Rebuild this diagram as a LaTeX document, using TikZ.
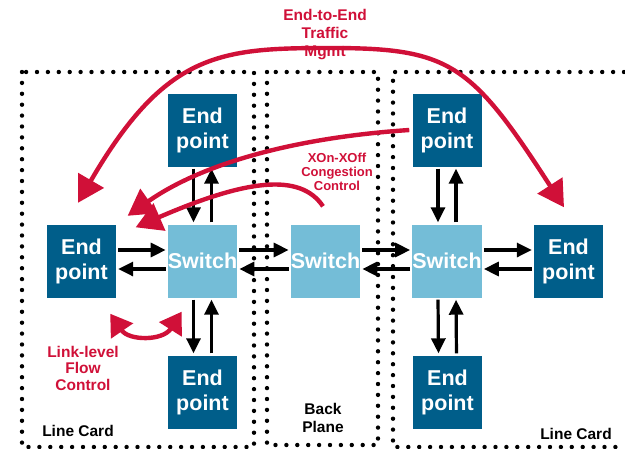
\documentclass[tikz,border=0pt]{standalone}
\usepackage{fontspec}
\setmainfont{Liberation Sans}
\usetikzlibrary{arrows.meta}
\definecolor{epblue}{RGB}{0,94,138}
\definecolor{swblue}{RGB}{116,189,215}
\definecolor{flowred}{RGB}{208,16,56}

\begin{document}
\begin{tikzpicture}[x=1pt,y=-1pt,
  card/.style={line width=4.4pt, dash pattern=on 0pt off 10.9pt, line cap=round},
  endpoint/.style={fill=epblue, minimum width=69pt, minimum height=73pt, inner sep=0pt,
    text=white, font=\bfseries\fontsize{21.5}{25}\selectfont, align=center},
  switchbox/.style={endpoint, fill=swblue},
  link/.style={line width=3.2pt, -{Triangle[length=15pt,width=14pt]}, shorten <=2pt, shorten >=2pt},
  ctrl/.style={draw=flowred, line width=4.4pt, -{Triangle[length=26pt,width=29pt]}},
  ctrlboth/.style={ctrl, {Triangle[length=26pt,width=29pt]}-{Triangle[length=26pt,width=29pt]}},
  ctrlshort/.style={ctrl, {Triangle[length=21pt,width=26pt]}-{Triangle[length=21pt,width=26pt]}},
  redlabel/.style={text=flowred, align=center, inner sep=0pt},
  cardlabel/.style={text=black, align=center, inner sep=0pt, font=\bfseries\fontsize{15.5}{18}\selectfont},
]
\useasboundingbox (0,0) rectangle (625,448);

% dotted enclosures: two line cards and the back plane
\draw[card] (22,72) rectangle (254,447);
\draw[card] (267,72) rectangle (378,445);
\draw[card] (624,72) -- (393,72) -- (393,447) -- (624,447);

% end points and switches
\node[endpoint]  (epL)  at (81.5,261) {End\\point};
\node[switchbox] (swL)  at (202.5,261) {Switch};
\node[endpoint]  (epTL) at (202.5,130) {End\\point};
\node[endpoint]  (epBL) at (202.5,392) {End\\point};
\node[switchbox] (swB)  at (325.5,261) {Switch};
\node[switchbox] (swR)  at (447,261) {Switch};
\node[endpoint]  (epTR) at (447,130) {End\\point};
\node[endpoint]  (epBR) at (447.5,392) {End\\point};
\node[endpoint]  (epR)  at (568.5,261) {End\\point};

% horizontal links
\draw[link] ([yshift=11pt]epL.east) -- ([yshift=11pt]swL.west);
\draw[link] ([yshift=-8pt]swL.west) -- ([yshift=-8pt]epL.east);
\draw[link] ([yshift=11pt]swL.east) -- ([yshift=11pt]swB.west);
\draw[link] ([yshift=-8pt]swB.west) -- ([yshift=-8pt]swL.east);
\draw[link] ([yshift=11pt]swB.east) -- ([yshift=11pt]swR.west);
\draw[link] ([yshift=-8pt]swR.west) -- ([yshift=-8pt]swB.east);
\draw[link] ([yshift=11pt]swR.east) -- ([yshift=11pt]epR.west);
\draw[link] ([yshift=-8pt]epR.west) -- ([yshift=-8pt]swR.east);

% vertical links
\draw[link] ([xshift=-9pt]epTL.south) -- ([xshift=-9pt]swL.north);
\draw[link] ([xshift=9pt]swL.north) -- ([xshift=9pt]epTL.south);
\draw[link] ([xshift=-9pt]swL.south) -- ([xshift=-9pt]epBL.north);
\draw[link] ([xshift=9pt]epBL.north) -- ([xshift=9pt]swL.south);
\draw[link] ([xshift=-9pt]epTR.south) -- ([xshift=-9pt]swR.north);
\draw[link] ([xshift=9pt]swR.north) -- ([xshift=9pt]epTR.south);
\draw[link] ([xshift=-9pt]swR.south) -- ([xshift=-9pt]epBR.north);
\draw[link] ([xshift=9pt]epBR.north) -- ([xshift=9pt]swR.south);

% labels
\node[cardlabel] (lcL) at (78,431) {Line Card};
\node[cardlabel] (bp)  at (323,418) {Back\\Plane};
\node[cardlabel] (lcR) at (576,434) {Line Card};
\node[redlabel, font=\bfseries\fontsize{15.5}{18}\selectfont] (e2e) at (325,35) {End-to-End\\Traffic\\Mgmt};
\node[redlabel, font=\bfseries\fontsize{13}{14}\selectfont] (xon) at (337,172) {XOn-XOff\\Congestion\\Control};
\node[redlabel, font=\bfseries\fontsize{15.5}{16.5}\selectfont] (llfc) at (83,368) {Link-level\\Flow\\Control};

% control loops
\coordinate (e2etop) at (330,48);
\draw[ctrlboth] ([xshift=-3.5pt,yshift=21.5pt]epL.north)
  .. controls +(87.5,-150.5) and +(-110,0) .. (e2etop)
  .. controls +(120,0) and +(-93,-144) .. ([xshift=-4.5pt,yshift=17pt]epR.north);
\draw[ctrl] ([xshift=-3pt]epTR.west)
  .. controls (290,138) and (200,165) .. ([xshift=-40pt,yshift=8.5pt]swL.north west);
\draw[ctrl] ([xshift=-2.5pt,yshift=18pt]swB.north)
  .. controls (300,172) and (245,180) .. ([xshift=-32pt,yshift=-3pt]swL.north west);
\draw[ctrlshort] ([xshift=-6pt,yshift=-16pt]epL.south east)
  .. controls (129,341) and (163,341) .. ([xshift=14pt,yshift=-14pt]swL.south west);
\end{tikzpicture}
\end{document}
